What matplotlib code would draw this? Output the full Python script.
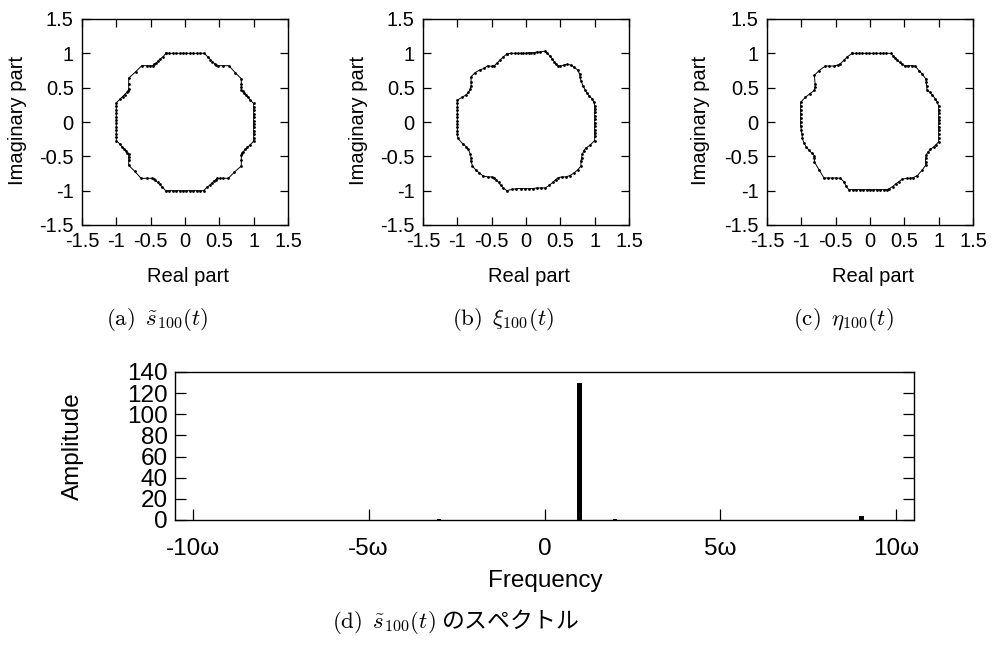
import matplotlib
matplotlib.use("Agg")
import matplotlib.pyplot as plt

plt.rcParams['font.family'] = ['Liberation Sans', 'DejaVu Sans']
plt.rcParams['mathtext.fontset'] = 'cm'
plt.rcParams['axes.unicode_minus'] = False

# ---------------- data ----------------
# (a) s~_100(t) trajectory in the complex plane
a_x = [-0.28, -0.23, -0.18, -0.13, -0.08, -0.03, 0.02, 0.07, 0.12, 0.17, 0.22, 0.28,
       0.33, 0.37, 0.40, 0.43, 0.45, 0.48, 0.55, 0.64, 0.73, 0.82, 0.82, 0.82, 0.82,
       0.84, 0.86, 0.89, 0.92, 0.95, 1.00, 1.00, 1.00, 1.00, 1.00, 1.00, 1.00, 1.00,
       1.00, 1.00, 1.00, 1.00, 0.95, 0.91, 0.88, 0.85, 0.83, 0.82, 0.82, 0.82, 0.72,
       0.63, 0.56, 0.51, 0.47, 0.45, 0.42, 0.39, 0.36, 0.32, 0.27, 0.22, 0.17, 0.12,
       0.07, 0.02, -0.03, -0.08, -0.13, -0.18, -0.23, -0.28, -0.33, -0.37, -0.40, -0.43,
       -0.45, -0.48, -0.55, -0.64, -0.73, -0.82, -0.82, -0.82, -0.82, -0.84, -0.86, -0.89,
       -0.92, -0.95, -1.00, -1.00, -1.00, -1.00, -1.00, -1.00, -1.00, -1.00, -1.00, -1.00,
       -1.00, -1.00, -0.95, -0.91, -0.88, -0.85, -0.83, -0.82, -0.82, -0.82, -0.72, -0.63,
       -0.56, -0.51, -0.47, -0.45, -0.42, -0.39, -0.36, -0.32, -0.28]
a_y = [1.00, 1.00, 1.00, 1.00, 1.00, 1.00, 1.00, 1.00, 1.00, 1.00, 1.00, 1.00,
       0.95, 0.91, 0.88, 0.85, 0.83, 0.82, 0.82, 0.82, 0.72, 0.63, 0.56, 0.51, 0.47,
       0.45, 0.42, 0.39, 0.36, 0.32, 0.27, 0.22, 0.17, 0.12, 0.07, 0.02, -0.03, -0.08,
       -0.13, -0.18, -0.23, -0.28, -0.33, -0.37, -0.40, -0.43, -0.45, -0.48, -0.55, -0.64,
       -0.73, -0.82, -0.82, -0.82, -0.82, -0.84, -0.86, -0.89, -0.92, -0.95, -1.00, -1.00,
       -1.00, -1.00, -1.00, -1.00, -1.00, -1.00, -1.00, -1.00, -1.00, -1.00, -0.95, -0.91,
       -0.88, -0.85, -0.83, -0.82, -0.82, -0.82, -0.72, -0.63, -0.56, -0.51, -0.47, -0.45,
       -0.42, -0.39, -0.36, -0.32, -0.27, -0.22, -0.17, -0.12, -0.07, -0.02, 0.03, 0.08,
       0.13, 0.18, 0.23, 0.28, 0.33, 0.37, 0.40, 0.43, 0.45, 0.48, 0.55, 0.64, 0.73, 0.82,
       0.82, 0.82, 0.82, 0.84, 0.86, 0.89, 0.92, 0.95, 1.00]

# (b) xi_100(t)
b_x = [-0.28, -0.22, -0.16, -0.12, -0.08, -0.04, 0.00, 0.04, 0.08, 0.12, 0.16, 0.20, 0.27,
       0.31, 0.35, 0.38, 0.41, 0.44, 0.47, 0.50, 0.55, 0.60, 0.65, 0.70, 0.75, 0.78, 0.79,
       0.80, 0.83, 0.86, 0.89, 0.92, 0.96, 0.99, 1.00, 1.00, 1.00, 1.00, 1.00, 1.00, 1.00,
       1.00, 1.00, 1.00, 1.00, 0.93, 0.87, 0.84, 0.82, 0.81, 0.80, 0.80, 0.75, 0.70, 0.64,
       0.58, 0.52, 0.47, 0.43, 0.39, 0.34, 0.28, 0.22, 0.16, 0.10, 0.04, -0.02, -0.08, -0.14,
       -0.20, -0.28, -0.33, -0.37, -0.40, -0.43, -0.46, -0.50, -0.55, -0.62, -0.68, -0.73,
       -0.78, -0.80, -0.80, -0.81, -0.84, -0.87, -0.92, -0.99, -1.00, -1.00, -1.00, -1.00,
       -1.00, -1.00, -1.00, -1.00, -1.00, -1.00, -1.00, -0.93, -0.88, -0.84, -0.81, -0.80,
       -0.80, -0.80, -0.74, -0.67, -0.61, -0.56, -0.50, -0.46, -0.42, -0.38, -0.34, -0.28]
b_y = [0.99, 1.00, 1.00, 1.00, 1.00, 1.00, 1.00, 1.01, 1.01, 1.01, 1.02, 1.02, 1.03,
       1.00, 0.96, 0.92, 0.88, 0.84, 0.82, 0.81, 0.83, 0.84, 0.83, 0.80, 0.76, 0.70, 0.65,
       0.60, 0.53, 0.47, 0.42, 0.38, 0.34, 0.29, 0.24, 0.19, 0.14, 0.09, 0.04, -0.01, -0.06,
       -0.11, -0.16, -0.21, -0.27, -0.34, -0.38, -0.42, -0.47, -0.52, -0.57, -0.64, -0.70,
       -0.74, -0.78, -0.80, -0.80, -0.81, -0.84, -0.88, -0.92, -0.96, -0.96, -0.96, -0.97,
       -0.97, -0.97, -0.97, -0.97, -0.98, -1.00, -0.96, -0.92, -0.88, -0.84, -0.81, -0.80,
       -0.80, -0.79, -0.74, -0.70, -0.64, -0.57, -0.52, -0.47, -0.40, -0.36, -0.32, -0.24,
       -0.18, -0.13, -0.08, -0.03, 0.02, 0.07, 0.12, 0.17, 0.22, 0.27, 0.32, 0.36, 0.39,
       0.43, 0.48, 0.53, 0.58, 0.66, 0.72, 0.76, 0.78, 0.82, 0.81, 0.82, 0.86, 0.90, 0.94,
       0.99]

# (c) eta_100(t)
c_x = [-0.26, -0.21, -0.16, -0.11, -0.06, -0.01, 0.04, 0.09, 0.14, 0.19, 0.24, 0.30,
       0.34, 0.37, 0.40, 0.43, 0.47, 0.51, 0.56, 0.61, 0.66, 0.71, 0.76, 0.81, 0.82, 0.825,
       0.83, 0.87, 0.91, 0.95, 0.98, 1.00, 1.00, 1.00, 1.00, 1.00, 1.00, 1.00, 1.00, 1.00,
       1.00, 1.00, 0.96, 0.93, 0.88, 0.84, 0.82, 0.81, 0.81, 0.81, 0.76, 0.69, 0.63, 0.58,
       0.54, 0.47, 0.42, 0.375, 0.33, 0.28, 0.25, 0.20, 0.15, 0.10, 0.05, 0.00, -0.05,
       -0.10, -0.15, -0.20, -0.25, -0.31, -0.35, -0.38, -0.43, -0.49, -0.55, -0.61, -0.67,
       -0.74, -0.81, -0.81, -0.81, -0.85, -0.89, -0.93, -0.96, -0.985, -0.99, -1.00, -1.01,
       -1.01, -1.01, -1.01, -1.01, -1.01, -1.01, -0.94, -0.88, -0.81, -0.80, -0.80, -0.81,
       -0.74, -0.65, -0.59, -0.52, -0.47, -0.43, -0.38, -0.33, -0.26]
c_y = [1.00, 1.00, 1.00, 1.00, 1.00, 1.00, 1.00, 1.00, 1.00, 1.00, 1.00, 1.00,
       0.96, 0.93, 0.90, 0.87, 0.84, 0.82, 0.82, 0.82, 0.815, 0.75, 0.70, 0.63, 0.58, 0.53,
       0.47, 0.43, 0.39, 0.34, 0.29, 0.23, 0.18, 0.13, 0.08, 0.03, -0.02, -0.07, -0.12,
       -0.17, -0.23, -0.29, -0.33, -0.36, -0.40, -0.44, -0.48, -0.53, -0.58, -0.63, -0.70,
       -0.78, -0.81, -0.82, -0.82, -0.83, -0.87, -0.90, -0.94, -0.97, -0.985, -0.985, -0.985,
       -0.985, -0.985, -0.985, -0.985, -0.985, -0.985, -0.985, -0.985, -0.985, -0.93, -0.87,
       -0.82, -0.815, -0.815, -0.815, -0.815, -0.70, -0.58, -0.53, -0.49, -0.45, -0.41,
       -0.36, -0.31, -0.24, -0.18, -0.12, -0.06, 0.00, 0.06, 0.12, 0.18, 0.24, 0.29, 0.36,
       0.41, 0.46, 0.51, 0.56, 0.68, 0.75, 0.815, 0.815, 0.815, 0.83, 0.85, 0.90, 0.95, 1.00]

# (d) spectrum of s~_100(t)
freq = [-7, -3, 1, 2, 9]
amplitude = [0.4, 0.6, 130, 0.5, 4]

circ_ticks = [-1.5, -1, -0.5, 0, 0.5, 1, 1.5]
circ_ticklabels = ['-1.5', '-1', '-0.5', '0', '0.5', '1', '1.5']
freq_ticks = [-10, -5, 0, 5, 10]
freq_ticklabels = ['-10ω', '-5ω', '0', '5ω', '10ω']
amp_ticks = [0, 20, 40, 60, 80, 100, 120, 140]
amp_ticklabels = ['0', '20', '40', '60', '80', '100', '120', '140']

captions = [r'$\mathrm{(a)}\ \,\tilde{s}_{100}(t)$',
            r'$\mathrm{(b)}\ \,\xi_{100}(t)$',
            r'$\mathrm{(c)}\ \,\eta_{100}(t)$']

# ---------------- layout ----------------
W, H = 995, 646
fig = plt.figure(figsize=(W / 100, H / 100), dpi=100)


def fx(px):
    return px / W


def fy(py):
    return 1 - py / H


TOP_FS = 14.5
BOT_FS = 17.5
CAP_FS = 16.5

lefts = [82, 423, 767]
ylab_x = [18, 358, 701]
cap_x = [157, 503, 843]
curves = [(a_x, a_y), (b_x, b_y), (c_x, c_y)]

for i in range(3):
    L = lefts[i]
    ax = fig.add_axes([fx(L), fy(225), 206 / W, 206 / H])
    xs, ys = curves[i]
    ax.plot(xs, ys, '-', color='black', lw=0.7, marker='o', ms=2.0,
            markeredgewidth=0, markerfacecolor='black')
    ax.set_xlim(-1.5, 1.5)
    ax.set_ylim(-1.5, 1.5)
    ax.set_xticks(circ_ticks)
    ax.set_xticklabels(circ_ticklabels)
    ax.set_yticks(circ_ticks)
    ax.set_yticklabels(circ_ticklabels)
    ax.tick_params(direction='in', top=True, right=True, length=5.5, width=0.9,
                   labelsize=TOP_FS)
    ax.tick_params(axis='x', pad=5)
    ax.tick_params(axis='y', pad=6)
    for s in ax.spines.values():
        s.set_linewidth(1.0)
    fig.text(fx(ylab_x[i]), fy(120), 'Imaginary part', rotation=90,
             ha='center', va='center', fontsize=TOP_FS)
    fig.text(fx(L + 106), fy(276), 'Real part', ha='center', va='center',
             fontsize=TOP_FS)
    fig.text(fx(cap_x[i]), fy(320), captions[i], ha='center', va='center',
             fontsize=CAP_FS)

# bottom spectrum
axd = fig.add_axes([fx(175), fy(520), 739 / W, 148 / H])
axd.bar(freq, amplitude, width=0.13, color='black')
axd.set_xlim(-10.5, 10.5)
axd.set_ylim(0, 140)
axd.set_xticks(freq_ticks)
axd.set_xticklabels(freq_ticklabels)
axd.set_yticks(amp_ticks)
axd.set_yticklabels(amp_ticklabels)
axd.tick_params(axis='x', direction='in', top=False, length=8, width=0.9,
                labelsize=BOT_FS, pad=13)
axd.tick_params(axis='y', direction='in', right=True, length=8, width=0.9,
                labelsize=BOT_FS, pad=5)
for s in axd.spines.values():
    s.set_linewidth(1.0)
fig.text(fx(73), fy(446), 'Amplitude', rotation=90, ha='center', va='center',
         fontsize=BOT_FS)
fig.text(fx(545), fy(581), 'Frequency', ha='center', va='center', fontsize=BOT_FS)
fig.text(fx(456), fy(621), r'$\mathrm{(d)}\ \,\tilde{s}_{100}(t)$ のスペクトル',
         ha='center', va='center', fontsize=CAP_FS,
         family=['Noto Sans CJK JP', 'DejaVu Sans'])

fig.savefig('out.png', dpi=100)
